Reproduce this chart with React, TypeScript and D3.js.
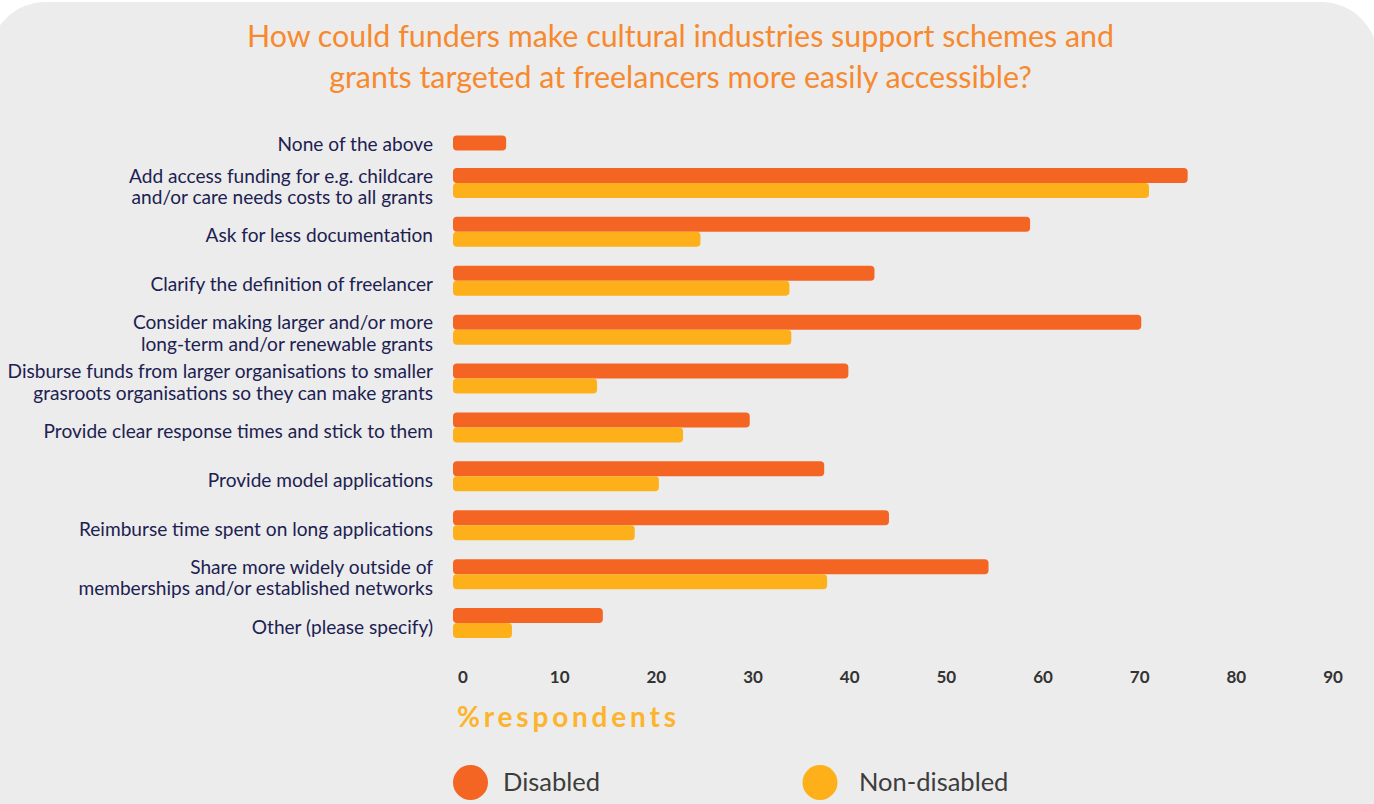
import React from "react";
import * as d3 from "d3";

const categories: string[][] = [
  ["None of the above"],
  ["Add access funding for e.g. childcare", "and/or care needs costs to all grants"],
  ["Ask for less documentation"],
  ["Clarify the definition of freelancer"],
  ["Consider making larger and/or more", "long-term and/or renewable grants"],
  ["Disburse funds from larger organisations to smaller", "grasroots organisations so they can make grants"],
  ["Provide clear response times and stick to them"],
  ["Provide model applications"],
  ["Reimburse time spent on long applications"],
  ["Share more widely outside of", "memberships and/or established networks"],
  ["Other (please specify)"],
];

const disabled: number[] = [5.5, 76.0, 59.7, 43.6, 71.2, 40.9, 30.7, 38.4, 45.1, 55.4, 15.5];
const nonDisabled: number[] = [0, 72.0, 25.6, 34.8, 35.0, 14.9, 23.8, 21.3, 18.8, 38.7, 6.1];

const ticks: number[] = [0, 10, 20, 30, 40, 50, 60, 70, 80, 90];

const titleLines = [
  "How could funders make cultural industries support schemes and",
  "grants targeted at freelancers more easily accessible?",
];
const seriesNames = ["Disabled", "Non-disabled"];

const W = 1374;
const H = 804;
const C_DIS = "#f46524";
const C_ND = "#fdb019";
const FONT = "'Source Sans Pro', Lato, sans-serif";

export default function App() {
  const ids = categories.map((_, i) => String(i));
  const step = 48.9;
  const y = d3.scaleBand<string>().domain(ids).range([109.6, 109.6 + 11 * step]).padding(0);
  const x = d3.scaleLinear().domain([0, 90]).range([453, 1323]);
  const barH = 15;
  const color = d3.scaleOrdinal<string, string>().domain(seriesNames).range([C_DIS, C_ND]);
  const legendCx = [470.5, 820];
  const legendTx = [503, 859];

  return (
    <svg
      width={W}
      height={H}
      style={{ position: "absolute", left: 0, top: 0, display: "block" }}
      fontFamily={FONT}
    >
      <rect x={0} y={0} width={W} height={H} fill="#ffffff" />
      <rect x={-11} y={2} width={1389} height={H + 100} rx={57} ry={57} fill="#ececec" />

      {titleLines.map((t, i) => (
        <text
          key={i}
          x={680.5}
          y={47 + i * 41}
          textAnchor="middle"
          fontSize={30.4}
          fill="#f7892e"
        >
          {t}
        </text>
      ))}

      {categories.map((lines, i) => {
        const c = y(ids[i])! + y.bandwidth() / 2;
        const single = nonDisabled[i] === 0;
        const disTop = single ? c + 9 - barH / 2 : c - barH;
        const labelCenter = single ? disTop + barH / 2 + 1 : c + 4;
        const lh = 21.5;
        const start = labelCenter - ((lines.length - 1) * lh) / 2;
        return (
          <g key={i}>
            {lines.map((l, j) => (
              <text
                key={j}
                x={433}
                y={start + j * lh + 6.5}
                textAnchor="end"
                fontSize={19.1}
                fill="#1c2151"
              >
                {l}
              </text>
            ))}
            <rect
              x={x(0)}
              y={disTop}
              width={x(disabled[i]) - x(0)}
              height={barH}
              rx={4}
              fill={color(seriesNames[0])}
            />
            {!single && (
              <rect
                x={x(0)}
                y={c}
                width={x(nonDisabled[i]) - x(0)}
                height={barH}
                rx={4}
                fill={color(seriesNames[1])}
              />
            )}
          </g>
        );
      })}

      {ticks.map((t) => (
        <text
          key={t}
          x={x(t) + 10}
          y={683}
          textAnchor="middle"
          fontSize={17}
          fontWeight={700}
          fill="#333333"
        >
          {t}
        </text>
      ))}

      <text x={457} y={727} fontSize={28} fontWeight={700} fill="#fcb42d" letterSpacing={3.8}>
        %respondents
      </text>

      {seriesNames.map((s, i) => (
        <g key={s}>
          <circle cx={legendCx[i]} cy={782.5} r={17.5} fill={color(s)} />
          <text x={legendTx[i]} y={790.5} fontSize={25.5} fill="#3d3d3d">
            {s}
          </text>
        </g>
      ))}
    </svg>
  );
}
